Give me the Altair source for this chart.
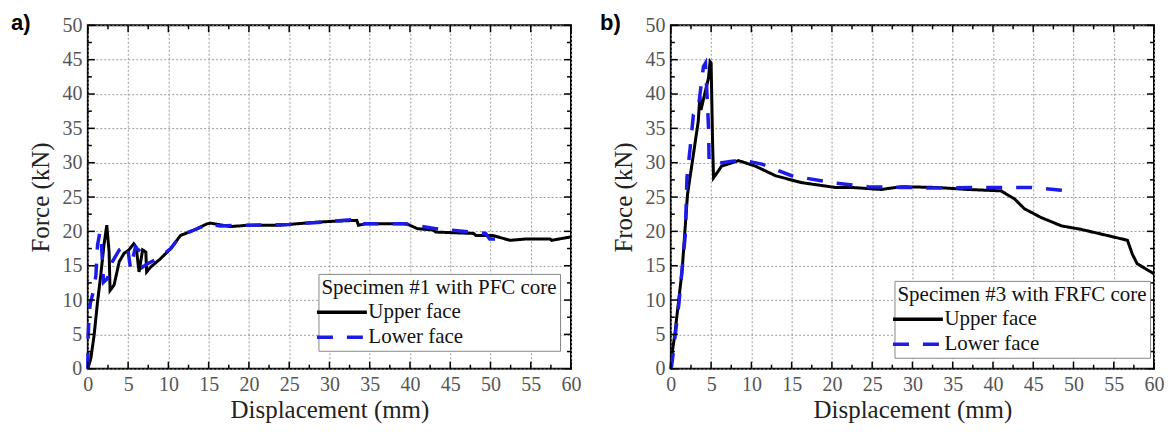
import altair as alt
import pandas as pd

# ---- data ----
# Panel a) Specimen #1 with PFC core
a_upper_x = [0, 0.37, 0.78, 1.2, 1.6, 2.0, 2.35, 2.64, 2.76, 3.26, 3.9, 4.5, 5.1, 5.7, 6.0, 6.36, 6.8, 7.2, 7.3,
             7.8, 9.0, 10.3, 11.5, 13.2, 14.8, 15.2, 17.7, 20, 23.9, 28, 30.9, 33.4, 33.6, 34.5, 35.9, 39.6, 40.9,
             42.9, 43.2, 47.9, 48.2, 50.3, 52.4, 54.5, 57.4, 57.6, 60]
a_upper_y = [0, 1.5, 4.9, 9.7, 13.6, 18.0, 20.9, 17.0, 11.4, 12.2, 15.6, 16.8, 17.3, 18.2, 17.7, 14.1, 17.3, 17.0, 14.1,
             14.8, 16.0, 17.5, 19.4, 20.2, 21.1, 21.2, 20.7, 20.9, 20.9, 21.3, 21.5, 21.6, 20.9, 21.1, 21.1, 21.1, 20.4,
             20.2, 19.9, 19.7, 19.4, 19.4, 18.7, 18.9, 18.9, 18.7, 19.2]
a_lower_x = [0, 0.04, 0.16, 0.3, 0.78, 1.0, 1.2, 1.5, 1.7, 1.95, 2.4, 3.0, 3.9, 4.5, 4.9, 5.3, 5.9, 6.6, 6.8, 7.4,
             8.6, 10.3, 11.5, 13.2, 14.8, 16.5, 20, 25, 29.7, 33.8, 34.2, 36, 39.2, 42.1, 43.2, 47.5, 49.4, 49.9, 50.7]
a_lower_y = [0, 4.9, 7.8, 9.5, 11.7, 13.6, 18.0, 19.9, 18.0, 12.6, 13.1, 15.5, 17.3, 17.7, 18.0, 14.6, 17.7, 17.0, 14.8,
             15.3, 16.0, 17.5, 19.4, 20.2, 21.0, 20.8, 20.9, 21.0, 21.4, 21.8, 21.1, 21.1, 21.1, 20.6, 20.4, 19.9, 19.7,
             18.9, 18.9]

# Panel b) Specimen #3 with FRFC core
b_upper_x = [0, 0.1, 0.5, 1.4, 2.07, 2.8, 3.4, 3.6, 3.75, 4.2, 4.67, 4.87, 5.0, 5.17, 5.3, 5.9, 6.3, 8.4, 10.5, 13.0,
             16.2, 20.4, 22.4, 26.1, 28.6, 32.8, 36.9, 41.0, 42.7, 43.9, 46.0, 48.5, 50.9, 54.2, 56.7, 57.3, 57.9,
             59.6, 60]
b_upper_y = [0, 1.7, 5.1, 14.3, 25.4, 31.2, 36.0, 39.7, 37.7, 40.0, 42.3, 44.7, 44.5, 33.6, 27.8, 28.8, 29.5, 30.3,
             29.5, 28.1, 27.1, 26.4, 26.4, 26.1, 26.5, 26.4, 26.1, 25.9, 24.7, 23.3, 22.0, 20.8, 20.3, 19.4, 18.7,
             16.7, 15.3, 14.1, 13.8]
b_lower_x = [0, 0.1, 1.0, 1.8, 2.0, 2.4, 2.8, 3.4, 4.05, 4.3, 4.55, 4.67, 4.75, 5.3, 7.6, 9.2, 11.3, 15, 20, 24.5,
             28.6, 33.2, 38.9, 43.5, 44.7, 48.5, 49.7]
b_lower_y = [0, 0.4, 9.5, 19.6, 27.8, 32.2, 37.0, 37.9, 44.0, 44.5, 38.4, 35.3, 30.3, 29.8, 30.2, 30.3, 29.8, 28.1,
             27.1, 26.5, 26.4, 26.3, 26.4, 26.4, 26.4, 26.0, 25.8]

faces = ["Upper face", "Lower face"]
x_major = [0, 5, 10, 15, 20, 25, 30, 35, 40, 45, 50, 55, 60]
x_minor = [2.5, 7.5, 12.5, 17.5, 22.5, 27.5, 32.5, 37.5, 42.5, 47.5, 52.5, 57.5]
y_major = [0, 5, 10, 15, 20, 25, 30, 35, 40, 45, 50]
y_minor = [2.5, 7.5, 12.5, 17.5, 22.5, 27.5, 32.5, 37.5, 42.5, 47.5]

W, H = 484, 344
SERIF = "Liberation Serif"

color_scale = alt.Scale(domain=faces, range=["#000000", "#1c1ce6"])
dash_scale = alt.Scale(domain=faces, range=[[1, 0], [16, 14]])


def curve_df(xs, ys, face):
    return pd.DataFrame({"x": xs, "y": ys, "face": face, "i": list(range(len(xs)))})


def make_axes(ytitle):
    x_enc = alt.X("x:Q", scale=alt.Scale(domain=[0, 60], nice=False),
                  axis=alt.Axis(values=x_major, grid=True, gridDash=[2, 2], gridColor="#999", gridWidth=1,
                                ticks=False, domain=False, labelFlush=False, labelFont=SERIF, labelFontSize=20,
                                labelColor="#555", labelPadding=6, title="Displacement (mm)", titleFont=SERIF,
                                titleFontSize=25, titleFontWeight="normal", titleColor="#222", titleX=W / 2,
                                titleY=41, titleAlign="center", titleBaseline="middle"))
    y_enc = alt.Y("y:Q", scale=alt.Scale(domain=[0, 50], nice=False),
                  axis=alt.Axis(values=y_major, grid=True, gridDash=[2, 2], gridColor="#999", gridWidth=1,
                                ticks=False, domain=False, labelFlush=False, labelFont=SERIF, labelFontSize=20,
                                labelColor="#555", labelPadding=6, title=ytitle, titleFont=SERIF, titleFontSize=25,
                                titleFontWeight="normal", titleColor="#222", titleX=-47, titleY=H / 2,
                                titleAlign="center", titleBaseline="middle", titleAngle=270))
    return x_enc, y_enc


def tick_layers(xvals, yvals, length, x_enc, y_enc):
    dx = pd.DataFrame({"x": xvals})
    dy = pd.DataFrame({"y": yvals})
    rule = dict(color="black", strokeWidth=1.5)
    return [
        alt.Chart(dx).mark_rule(**rule).encode(x=x_enc, y=alt.value(H), y2=alt.value(H - length)),
        alt.Chart(dx).mark_rule(**rule).encode(x=x_enc, y=alt.value(0), y2=alt.value(length)),
        alt.Chart(dy).mark_rule(**rule).encode(y=y_enc, x=alt.value(0), x2=alt.value(length)),
        alt.Chart(dy).mark_rule(**rule).encode(y=y_enc, x=alt.value(W), x2=alt.value(W - length)),
    ]


def panel(ux, uy, lx, ly, legend_title, ytitle, tag, lx_pos, ly_pos, tag_x):
    legend = alt.Legend(
        orient="none", legendX=lx_pos, legendY=ly_pos, title=legend_title,
        titleFont=SERIF, titleFontSize=21, titleFontWeight="normal", titleColor="#111",
        titleLimit=500, titlePadding=0,
        labelFont=SERIF, labelFontSize=21, labelColor="#111", labelLimit=300, labelOffset=12,
        symbolType="M-2,0H2", symbolSize=625, symbolStrokeWidth=3.5, symbolOffset=6,
        strokeColor="#888", fillColor="white", padding=3, rowPadding=0, cornerRadius=0,
    )
    x_enc, y_enc = make_axes(ytitle)
    col = alt.Color("face:N", scale=color_scale, legend=legend)
    dash = alt.StrokeDash("face:N", scale=dash_scale, legend=legend)
    upper = alt.Chart(curve_df(ux, uy, faces[0])).mark_line(strokeWidth=3).encode(
        x=x_enc, y=y_enc, color=col, strokeDash=dash, order="i:Q")
    lower = alt.Chart(curve_df(lx, ly, faces[1])).mark_line(strokeWidth=3.5).encode(
        x=x_enc, y=y_enc, color=col, strokeDash=dash, order="i:Q")
    label = alt.Chart(pd.DataFrame({"t": [tag]})).mark_text(
        align="left", baseline="top", font="Liberation Sans", fontWeight="bold", fontSize=22, color="black"
    ).encode(x=alt.value(tag_x), y=alt.value(-12), text="t:N")
    layers = ([upper, lower] + tick_layers(x_major, y_major, 7, x_enc, y_enc)
              + tick_layers(x_minor, y_minor, 4, x_enc, y_enc) + [label])
    return alt.layer(*layers).properties(width=W, height=H)


left = panel(a_upper_x, a_upper_y, a_lower_x, a_lower_y, "Specimen #1 with PFC core", "Force (kN)", "a)",
             231, 249, -77)
right = panel(b_upper_x, b_upper_y, b_lower_x, b_lower_y, "Specimen #3 with FRFC core", "Froce (kN)", "b)",
              224, 256, -71)

chart = alt.hconcat(left, right, spacing=17).resolve_scale(
    color="independent", strokeDash="independent"
).properties(
    padding={"left": 10, "top": 11, "right": 5, "bottom": 5},
    background="white",
).configure_view(stroke="black", strokeWidth=2)

chart.save("out.html", embed_options={"renderer": "svg", "actions": False})
